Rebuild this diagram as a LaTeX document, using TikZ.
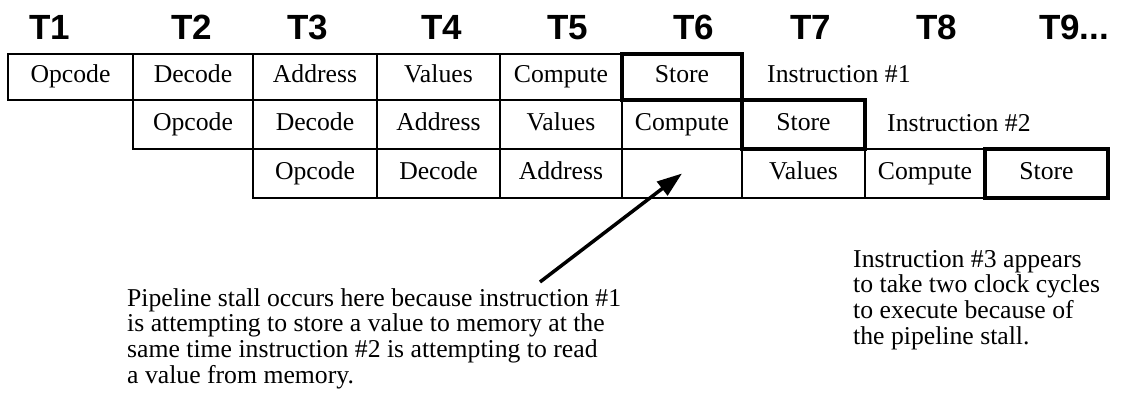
\documentclass[tikz,border=0pt]{standalone}
\usepackage{fontspec}
\setmainfont{Liberation Serif}
\newfontfamily\headfont{Liberation Sans}
\usetikzlibrary{positioning, arrows.meta}

\tikzset{
  cell/.style={draw=black, line width=2.2pt, inner sep=0pt, text height=18pt, text depth=6pt,
               font=\fontsize{25.7}{25.7}\selectfont},
  storecell/.style={cell, line width=4.5pt},
  rowa/.style={minimum height=46pt},
  rowb/.style={minimum height=49pt},
  tick/.style={anchor=base, inner sep=0pt, font=\headfont\bfseries\fontsize{35}{35}\selectfont},
  note/.style={align=left, inner sep=0pt, font=\fontsize{25.7}{25.7}\selectfont},
  pointer/.style={line width=3.5pt, -{Triangle[length=25pt, width=17pt]}}
}

\begin{document}
\begin{tikzpicture}[x=1pt, y=-1pt]
  \path[use as bounding box, fill=white] (0,0) rectangle (1128,395);

  % clock ticks
  \node[tick] (t1) at (50,40) {T1};
  \node[tick] (t2) at (192,40) {T2};
  \node[tick] (t3) at (308,40) {T3};
  \node[tick] (t4) at (442,40) {T4};
  \node[tick] (t5) at (568,40) {T5};
  \node[tick] (t6) at (694,40) {T6};
  \node[tick] (t7) at (811,40) {T7};
  \node[tick] (t8) at (937,40) {T8};
  \node[tick] (t9) at (1074,40) {T9...};

  % instruction #1
  \node[cell, rowa, minimum width=125pt] (aop) at (70.5,77) {Opcode};
  \node[cell, rowa, minimum width=120pt] (adec) at (193,77) {Decode};
  \node[cell, rowa, minimum width=124pt] (aadr) at (315,77) {Address};
  \node[cell, rowa, minimum width=123pt] (aval) at (438.5,77) {Values};
  \node[cell, rowa, minimum width=122pt] (acmp) at (561,77) {Compute};
  \node[storecell, rowa, minimum width=120pt] (asto) at (682,77) {Store};
  \node[note, anchor=base west] (ilabel1) at (767,83) {Instruction \#1};

  % instruction #2
  \node[cell, rowb, minimum width=120pt] (bop) at (193,124.5) {Opcode};
  \node[cell, rowb, minimum width=124pt] (bdec) at (315,124.5) {Decode};
  \node[cell, rowb, minimum width=123pt] (badr) at (438.5,124.5) {Address};
  \node[cell, rowb, minimum width=122pt] (bval) at (561,124.5) {Values};
  \node[cell, rowb, minimum width=120pt] (bcmp) at (682,124.5) {Compute};
  \node[storecell, rowb, minimum width=123pt] (bsto) at (803.5,124.5) {Store};
  \node[note, anchor=base west] (ilabel2) at (887,132) {Instruction \#2};

  % instruction #3
  \node[cell, rowb, minimum width=124pt] (cop) at (315,173.5) {Opcode};
  \node[cell, rowb, minimum width=123pt] (cdec) at (438.5,173.5) {Decode};
  \node[cell, rowb, minimum width=122pt] (cadr) at (561,173.5) {Address};
  \node[cell, rowb, minimum width=120pt] (gap) at (682,173.5) {};
  \node[cell, rowb, minimum width=123pt] (cval) at (803.5,173.5) {Values};
  \node[cell, rowb, minimum width=120pt] (ccmp) at (925,173.5) {Compute};
  \node[storecell, rowb, minimum width=123pt] (csto) at (1046.5,173.5) {Store};

  % notes
  \node[note, anchor=north west] (stalltext) at (127,288)
    {Pipeline stall occurs here because instruction \#1\\
     is attempting to store a value to memory at the\\
     same time instruction \#2 is attempting to read\\
     a value from memory.};
  \node[note, anchor=north west] (twocycles) at (853,250)
    {Instruction \#3 appears\\
     to take two clock cycles\\
     to execute because of\\
     the pipeline stall.};

  \coordinate (stalltail) at (540,282);
  \draw[pointer] (stalltail) -- (gap.center);
\end{tikzpicture}
\end{document}
